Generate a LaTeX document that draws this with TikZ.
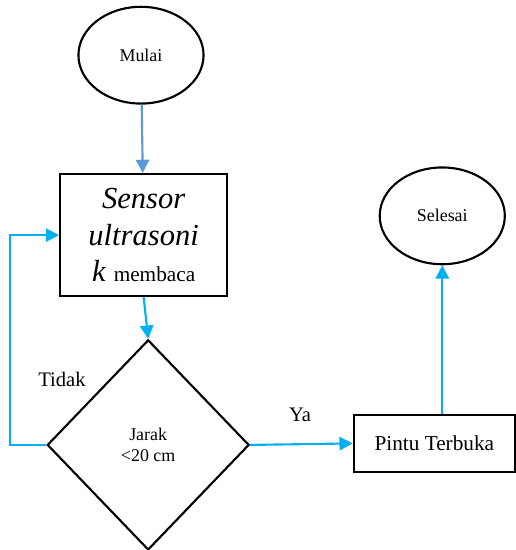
\documentclass[tikz,border=0pt]{standalone}
\usepackage{fontspec}
\setmainfont{Liberation Serif}
\usetikzlibrary{shapes.geometric,arrows.meta}
\definecolor{biru}{HTML}{5B9BD5}
\definecolor{cyan}{HTML}{00B0F0}

\begin{document}
\begin{tikzpicture}[
  every node/.style={draw, line width=1.6pt, align=center},
  terminal/.style={ellipse, minimum width=3.31cm, minimum height=2.56cm, font=\fontsize{13.5}{16}\selectfont},
  proses/.style={rectangle, inner sep=0pt},
  keputusan/.style={diamond, minimum width=5.34cm, minimum height=5.56cm, inner sep=0pt, font=\fontsize{13.5}{15.8}\selectfont},
  label/.style={draw=none, font=\fontsize{15.5}{18}\selectfont},
  alur/.style={line width=1.6pt, color=cyan, -{Triangle[width=10pt,length=10pt]}}
]
\useasboundingbox (0,0) rectangle (13.65,-14.55);

\node[terminal] (mulai) at (3.73,-1.46) {Mulai};
\node[proses, minimum width=4.42cm, minimum height=3.23cm, font=\fontsize{23}{27.5}\selectfont] (sensor) at (3.80,-6.22)
  {\textit{Sensor}\\
   \textit{ultrasoni}\\
   \textit{k} {\fontsize{16}{27.5}\selectfont membaca}};
\node[keputusan] (cek) at (3.92,-11.77) {Jarak\\<20 cm};
\node[proses, minimum width=4.26cm, minimum height=1.51cm, font=\fontsize{16}{19}\selectfont] (pintu) at (11.49,-11.73) {Pintu Terbuka};
\node[terminal] (selesai) at (11.70,-5.71) {Selesai};

\node[label] (tidak) at (1.64,-10.03) {Tidak};
\node[label] (ya) at (7.94,-10.98) {Ya};

\draw[alur, color=biru] (mulai) -- (sensor);
\draw[alur] (sensor.south) -- (cek.north);
\draw[alur] (cek.west) -- ++(-0.95,0) |- (sensor.west);
\draw[alur] (cek.east) -- (pintu.west);
\draw[alur] (selesai.south |- pintu.north) -- (selesai.south);

\end{tikzpicture}
\end{document}
